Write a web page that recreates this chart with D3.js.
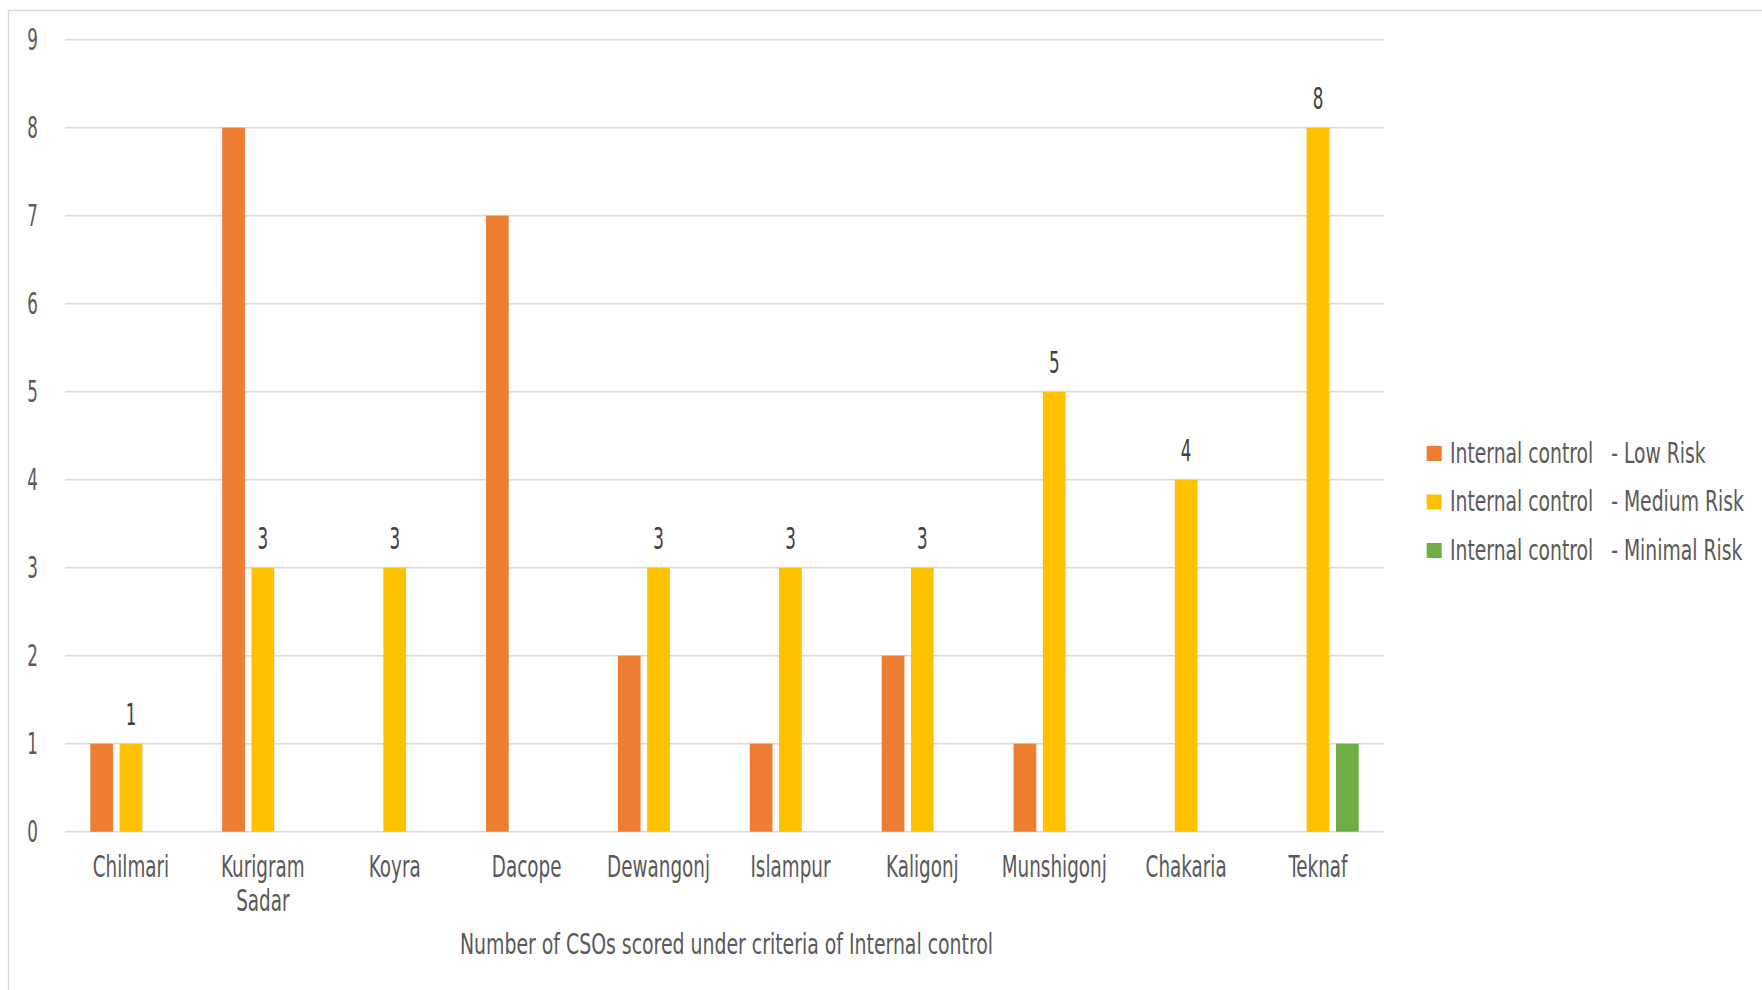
<!DOCTYPE html>
<html>
<head>
<meta charset="utf-8">
<script src="https://cdn.jsdelivr.net/npm/d3@7/dist/d3.min.js"></script>
<style>
  html, body { margin: 0; padding: 0; background: #ffffff; }
  svg { display: block; }
  text { font-family: "Liberation Sans Narrow", "DejaVu Sans Condensed", "Liberation Sans", sans-serif; white-space: pre; }
</style>
</head>
<body>
<svg id="chart" width="1762" height="990"></svg>
<script>
// Districts along the x axis
const categories = ["Chilmari", "Kurigram Sadar", "Koyra", "Dacope", "Dewangonj",
                    "Islampur", "Kaligonj", "Munshigonj", "Chakaria", "Teknaf"];

// Number of CSOs in each risk band (null = no bar)
const lowRisk     = [1, 8, null, 7, 2, 1, 2, 1, null, null];
const mediumRisk  = [1, 3, 3, null, 3, 3, 3, 5, 4, 8];
const minimalRisk = [null, null, null, null, null, null, null, null, null, 1];

const seriesNames  = ["Internal control   - Low Risk",
                      "Internal control   - Medium Risk",
                      "Internal control   - Minimal Risk"];
const seriesColors = ["#ED7D31", "#FFC000", "#70AD47"];
const yTicks = [0, 1, 2, 3, 4, 5, 6, 7, 8, 9];
const axisTitle = "Number of CSOs scored under criteria of Internal control";

const seriesValues = [lowRisk, mediumRisk, minimalRisk];
const labelledSeries = 1; // values shown above the Medium Risk bars

const svg = d3.select("#chart");

// helper: tall, horizontally squeezed text at (x, y)
function label(g, x, y, str, opts) {
  return g.append("text")
    .attr("transform", `translate(${x},${y}) scale(${opts.sx},1)`)
    .attr("text-anchor", opts.anchor || "middle")
    .attr("font-size", opts.size || 30)
    .attr("fill", opts.fill || "#595959")
    .text(str);
}

// outer frame of the chart area
svg.append("path")
  .attr("d", "M8.5,990 L8.5,10.5 L1762,10.5")
  .attr("fill", "none")
  .attr("stroke", "#D9D9D9")
  .attr("stroke-width", 1.3);

const plot = { left: 65, right: 1384, top: 39.7, bottom: 831.7 };

const y = d3.scaleLinear().domain([0, 9]).range([plot.bottom, plot.top]);
const x0 = d3.scaleBand().domain(categories).range([plot.left, plot.right]).padding(0);
const x1 = d3.scaleBand().domain(d3.range(seriesNames.length))
  .range([0, x0.bandwidth()])
  .paddingInner(0.225)
  .paddingOuter(0.8635);

// horizontal gridlines
const grid = svg.append("g");
grid.selectAll("line").data(yTicks).join("line")
  .attr("x1", plot.left).attr("x2", plot.right)
  .attr("y1", d => y(d)).attr("y2", d => y(d))
  .attr("stroke", "#D9D9D9")
  .attr("stroke-width", 1.4);

// y tick labels
const yLab = svg.append("g");
yTicks.forEach(t => label(yLab, 38, y(t) + 10.5, String(t), { anchor: "end", size: 30, sx: 0.62 }));

// bars
const barsG = svg.append("g");
seriesValues.forEach((vals, si) => {
  const data = categories.map((c, i) => ({ c, v: vals[i] })).filter(d => d.v != null);
  barsG.selectAll(null).data(data).join("rect")
    .attr("x", d => x0(d.c) + x1(si))
    .attr("width", x1.bandwidth())
    .attr("y", d => y(d.v))
    .attr("height", d => y(0) - y(d.v))
    .attr("fill", seriesColors[si]);
});

// value labels above the Medium Risk bars
const valG = svg.append("g");
categories.forEach((c, i) => {
  const v = seriesValues[labelledSeries][i];
  if (v == null) return;
  const cx = x0(c) + x1(labelledSeries) + x1.bandwidth() / 2;
  label(valG, cx, y(v) - 18.5, String(v), { size: 30, fill: "#404040", sx: 0.62 });
});

// category labels (wrapped on spaces where a name has two words)
const catG = svg.append("g");
categories.forEach(c => {
  const cx = x0(c) + x0.bandwidth() / 2;
  c.split(" ").forEach((w, li) => label(catG, cx, 877.3 + li * 33.7, w, { size: 30, sx: 0.68 }));
});

// x axis title
label(svg.append("g"), (plot.left + plot.right) / 2 + 2, 954, axisTitle, { size: 28, sx: 0.75 });

// legend
const legG = svg.append("g");
seriesNames.forEach((name, i) => {
  const ly = 446 + i * 48.5;
  legG.append("rect")
    .attr("x", 1426.7).attr("y", ly)
    .attr("width", 15).attr("height", 15)
    .attr("fill", seriesColors[i]);
  label(legG, 1450, ly + 16.7, name, { anchor: "start", size: 29, sx: 0.72 });
});
</script>
</body>
</html>
